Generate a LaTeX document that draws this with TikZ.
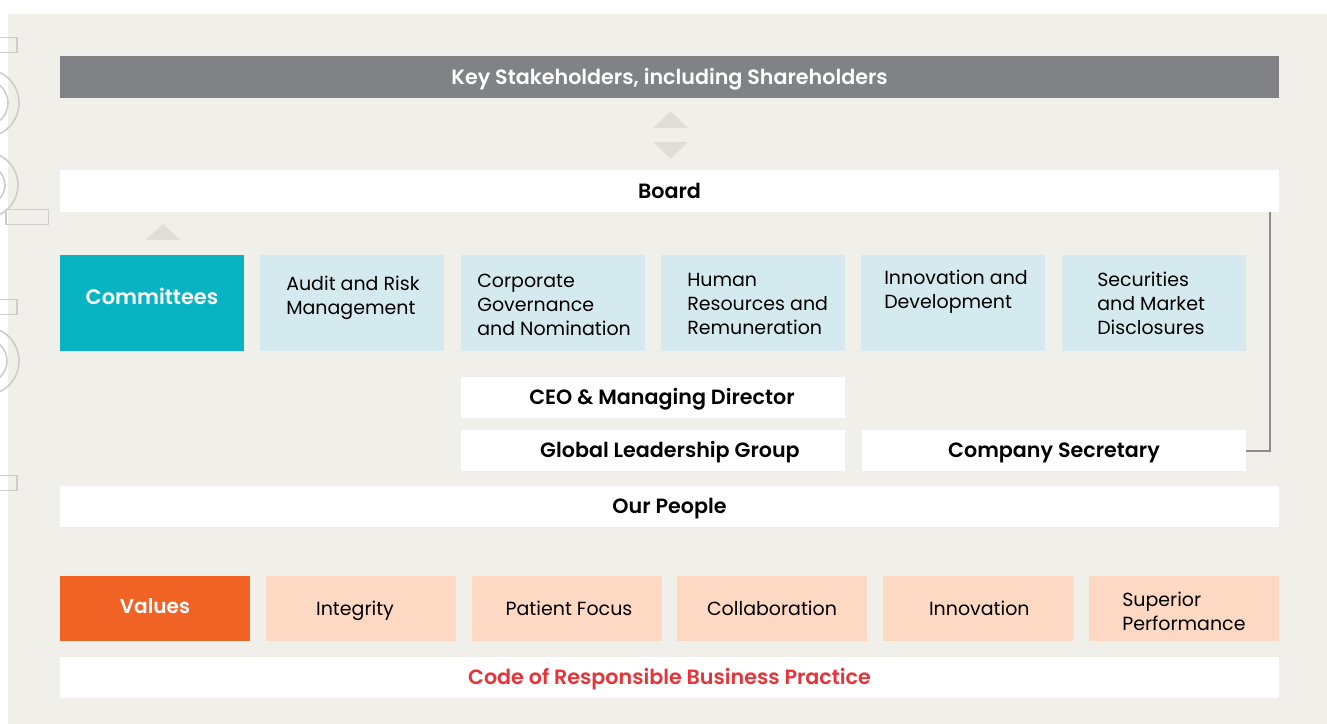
\documentclass[tikz,border=0pt]{standalone}
\usepackage{fontspec}
\setmainfont{Poppins}[BoldFont={Poppins SemiBold}]
\begin{document}
\def\pxu{0.75pt}
\definecolor{panel}{HTML}{F0EFEA}
\definecolor{keygray}{HTML}{818286}
\definecolor{tri}{HTML}{E0DED9}
\definecolor{teal}{HTML}{08B4C1}
\definecolor{lblue}{HTML}{D5EAEE}
\definecolor{orng}{HTML}{F06325}
\definecolor{peach}{HTML}{FDD9C4}
\definecolor{codered}{HTML}{E6343A}
\definecolor{conn}{HTML}{8C8C8C}
\definecolor{deco}{HTML}{CDCDCD}
\begin{tikzpicture}[x=0.75pt,y=-0.75pt,
  box/.style={inner sep=0pt, outer sep=0pt, anchor=north west, font=\fontsize{14.25pt}{18pt}\selectfont},
  widebar/.style={box, minimum width=1219*\pxu, minimum height=42*\pxu, fill=white, text height=11pt, text depth=0pt, font=\fontsize{15.5pt}{18pt}\selectfont\bfseries},
  midbar/.style={box, minimum width=384*\pxu, minimum height=41*\pxu, fill=white, text height=11pt, text depth=0pt, font=\fontsize{15.5pt}{18pt}\selectfont\bfseries},
  combox/.style={box, minimum width=184*\pxu, minimum height=96*\pxu, fill=lblue},
  valbox/.style={box, minimum width=190*\pxu, minimum height=65*\pxu, fill=peach, text height=10pt, text depth=0pt},
  txt/.style={inner sep=0pt, anchor=west, align=left, font=\fontsize{14.25pt}{18pt}\selectfont},
  decoline/.style={draw=deco, line width=1.6*\pxu},
  connline/.style={draw=conn, line width=2*\pxu}
]
\useasboundingbox (0,0) rectangle (1327,724);
\fill[white] (0,0) rectangle (1327,724);
\fill[panel] (8,14) rectangle (1327,724);

% decorative outlines on the left edge
\draw[decoline] (-5,37.5) rectangle (17,52.5);
\draw[decoline] (-5,299.5) rectangle (17,314.5);
\draw[decoline] (-5,475.5) rectangle (17,490.5);
\draw[decoline] (-15,103) circle (34);
\draw[decoline] (-15,103) circle (23);
\draw[decoline] (-15,361) circle (34);
\draw[decoline] (-15,361) circle (22);
\draw[decoline] (-15,185) ++(0:33) arc (0:-90:33) -- (-15,218);
\draw[decoline] (-15,185) ++(0:33) arc (0:90:33);
\draw[decoline] (-15,185) ++(0:20) arc (0:90:20);
\draw[decoline] (-15,185) ++(0:20) arc (0:-60:20);
\draw[decoline] (6,209.5) rectangle (48.5,224.5);
\draw[decoline] (-15,-25) ++(0:31) arc (0:-90:31);

% header
\node[widebar, fill=keygray, text=white] (key) at (60,56) {Key Stakeholders, including Shareholders};
\fill[tri] (670.5,111) -- (688,128) -- (653,128) -- cycle;
\fill[tri] (653,142) -- (688,142) -- (670.5,159) -- cycle;
\node[widebar] (board) at (60,170) {Board};
\fill[tri] (163,224) -- (180.5,240) -- (145.5,240) -- cycle;

% committees
\node[combox, fill=teal, text=white, text height=11pt, text depth=0pt, font=\fontsize{15.7pt}{18pt}\selectfont\bfseries] (comm) at (60,255) {\raisebox{4.5pt}{Committees}};
\node[combox] (audit) at (260,255) {};
\node[combox] (corp) at (461,255) {};
\node[combox] (hr) at (661,255) {};
\node[combox] (innov) at (861,255) {};
\node[combox] (sec) at (1062,255) {};
\node[txt] (audittxt) at (286,298) {Audit and Risk\\Management};
\node[txt] (corptxt) at (477,305) {Corporate\\Governance\\and Nomination};
\node[txt] (hrtxt) at (687,304) {Human\\Resources and\\Remuneration};
\node[txt] (innovtxt) at (884,292) {Innovation and\\Development};
\node[txt] (sectxt) at (1097,303) {Securities\\and Market\\Disclosures};

% leadership
\node[midbar] (ceo) at (461,377) {\hspace*{13.5pt}CEO \& Managing Director};
\node[midbar] (glg) at (461,430) {\hspace*{25.5pt}Global Leadership Group};
\node[midbar] (csec) at (862,430) {Company Secretary};
\draw[connline] ([xshift=-9*\pxu]board.south east) |- (csec.east);
\node[widebar, minimum height=41*\pxu] (people) at (60,486) {Our People};

% values
\node[valbox, fill=orng, text=white, text height=11pt, font=\fontsize{15.1pt}{18pt}\selectfont\bfseries] (values) at (60,576) {\raisebox{1.5pt}{Values}};
\node[valbox] (integ) at (266,576) {Integrity\hspace*{9pt}};
\node[valbox] (patient) at (472,576) {\hspace*{3pt}Patient Focus};
\node[valbox] (collab) at (677,576) {Collaboration};
\node[valbox] (innovv) at (883,576) {\hspace*{2pt}Innovation};
\node[valbox] (superior) at (1089,576) {};
\node[txt] (suptxt) at (1122,611) {Superior\\Performance};
\node[widebar, text=codered, minimum height=41*\pxu] (code) at (60,657) {Code of Responsible Business Practice};
\end{tikzpicture}
\end{document}
